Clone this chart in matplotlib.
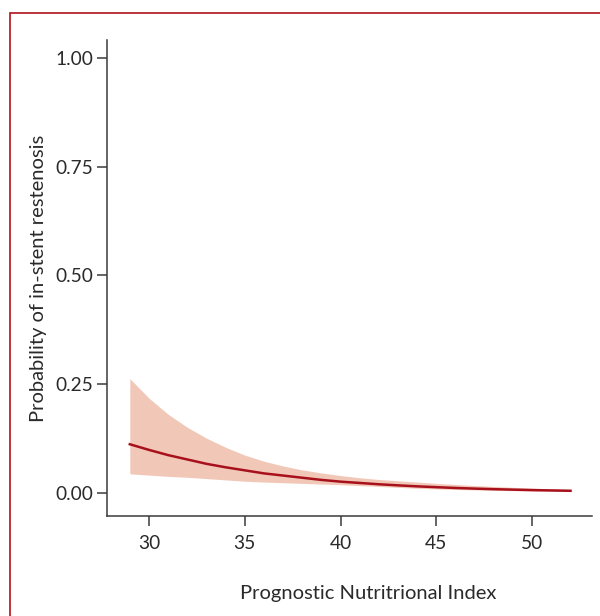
import numpy as np
import matplotlib
matplotlib.use("Agg")
import matplotlib.pyplot as plt
import matplotlib.patches as patches

# values
pni = [29, 30, 31, 32, 33, 34, 35, 36, 37, 38, 39, 40,
       41, 42, 43, 44, 45, 46, 47, 48, 49, 50, 51, 52]
prob = [0.112, 0.099, 0.087, 0.077, 0.067, 0.059, 0.052, 0.045, 0.040, 0.035, 0.030, 0.026,
        0.023, 0.020, 0.0175, 0.0152, 0.0133, 0.0115, 0.0100, 0.0087, 0.0076, 0.0066, 0.0058, 0.0050]
upper = [0.263, 0.218, 0.181, 0.151, 0.126, 0.105, 0.087, 0.073, 0.062, 0.053, 0.046, 0.040,
         0.035, 0.031, 0.028, 0.025, 0.022, 0.0195, 0.017, 0.015, 0.013, 0.011, 0.0095, 0.008]
lower = [0.044, 0.041, 0.038, 0.036, 0.033, 0.030, 0.027, 0.025, 0.0235, 0.022, 0.0205, 0.019,
         0.017, 0.015, 0.0128, 0.0108, 0.0093, 0.008, 0.007, 0.006, 0.0053, 0.0046, 0.004, 0.0034]
xticks = [30, 35, 40, 45, 50]
yticks = [0.00, 0.25, 0.50, 0.75, 1.00]

plt.rcParams['font.family'] = ['Lato', 'DejaVu Sans']

fig = plt.figure(figsize=(6, 6.16), dpi=100)
ax = fig.add_axes([0.178, 0.1623, 0.809, 0.7727])

ax.fill_between(pni, lower, upper, color='#f1c8b8', linewidth=0)
ax.plot(pni, prob, color='#a8111c', linewidth=1.8)

ax.set_xlim(27.8, 53.13)
ax.set_ylim(-0.053, 1.041)
ax.set_xticks(xticks)
ax.set_yticks(yticks)
ax.set_yticklabels(['%.2f' % v for v in yticks])

for s in ['top', 'right']:
    ax.spines[s].set_visible(False)
for s in ['left', 'bottom']:
    ax.spines[s].set_color('#3a3a3a')
    ax.spines[s].set_linewidth(1.1)
ax.tick_params(length=7.5, width=1.1, color='#3a3a3a', labelsize=13.8,
               labelcolor='#2a2a2a')
ax.tick_params(axis='x', pad=6)
ax.tick_params(axis='y', pad=2)

ax.set_xlabel('Prognostic Nutritrional Index', fontsize=14.5, color='#2a2a2a')
ax.xaxis.set_label_coords(0.538, -0.145)
ax.set_ylabel('Probability of in-stent restenosis', fontsize=14.5, color='#2a2a2a')
ax.yaxis.set_label_coords(-0.124, 0.5)

# dark red frame around the figure (cut off at right and bottom)
frame = patches.Rectangle((10 / 600, -0.1), 1.2, 1 - 13 / 616 + 0.1,
                          transform=fig.transFigure, fill=False,
                          edgecolor='#b0101a', linewidth=1.2)
fig.patches.append(frame)

fig.savefig('out.png', dpi=100)
